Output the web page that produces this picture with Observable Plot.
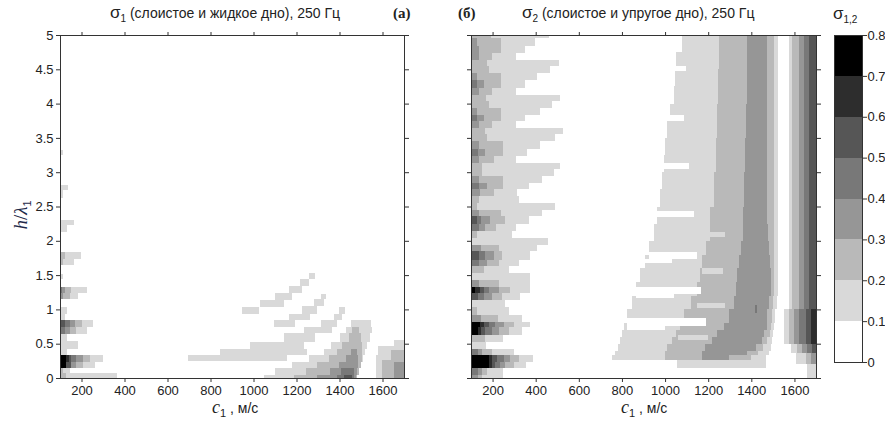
<!DOCTYPE html>
<html><head><meta charset="utf-8">
<script src="https://cdn.jsdelivr.net/npm/d3@7"></script>
<script src="https://cdn.jsdelivr.net/npm/@observablehq/plot@0.6"></script>
<style>
body{margin:0;background:#fff;}
#wrap{position:relative;width:885px;height:426px;font-family:"Liberation Sans",Arial,sans-serif;color:#222;overflow:hidden;}
.abs{position:absolute;white-space:nowrap;}
.title{font-size:14px;}
.sig{font-size:17px;}
.sub{font-size:10px;position:relative;top:4px;}
.lab{font-family:"Liberation Serif",serif;font-weight:bold;font-size:15px;}
.xl{font-size:14px;}
.ci{font-family:"Liberation Serif",serif;font-style:italic;font-size:18px;}
</style></head>
<body><div id="wrap"></div>
<script>
// ---- data ----
const xTicks = [200,400,600,800,1000,1200,1400,1600];
const yTicks = [0,0.5,1,1.5,2,2.5,3,3.5,4,4.5,5];
const levelBreaks = [0.1,0.2,0.3,0.4,0.5,0.6,0.7];
const levelTicks = [0,0.1,0.2,0.3,0.4,0.5,0.6,0.7,0.8];
const grays = ["#ffffff","#d9d9d9","#b9b9b9","#969696","#787878","#565656","#2d2d2d","#000000"];

// panel (a): rectangles [c1 from, c1 to, h/λ from, h/λ to, level 0..7], painted in order
const aLeft = [
[100,115,3.25,3.33,1],
[100,135,2.74,2.82,1],[100,115,2.63,2.74,1],
[100,165,2.23,2.31,1],[100,134,2.13,2.23,1],
[100,197,1.74,1.83,1],[100,122,1.74,1.83,2],
[100,165,1.64,1.74,1],[100,112,1.64,1.74,2],
[100,114,1.45,1.52,1],
[100,226,1.24,1.33,1],[100,153,1.24,1.33,2],[100,122,1.24,1.33,3],[100,110,1.24,1.33,4],
[100,184,1.15,1.24,1],[100,145,1.15,1.24,2],[100,114,1.15,1.24,3],
[100,134,0.93,1.03,1],[100,122,0.84,0.93,1],
[100,254,0.75,0.84,1],[100,200,0.75,0.84,2],[100,169,0.75,0.84,3],[100,145,0.75,0.84,4],[100,122,0.75,0.84,5],
[100,226,0.64,0.75,1],[100,176,0.64,0.75,2],[100,145,0.64,0.75,3],[100,122,0.64,0.75,4],
[100,134,0.54,0.64,1],
[100,184,0.43,0.54,1],
[100,134,0.33,0.43,1],
[100,298,0.24,0.33,1],[100,239,0.24,0.33,2],[100,207,0.24,0.33,3],[100,176,0.24,0.33,4],[100,150,0.24,0.33,5],[100,140,0.24,0.33,6],[100,130,0.24,0.33,7],
[100,265,0.14,0.24,1],[100,207,0.14,0.24,2],[100,176,0.14,0.24,3],[100,153,0.14,0.24,5],[100,130,0.14,0.24,7],
[100,145,0.08,0.14,1],[100,114,0.08,0.14,2],
[100,363,0,0.08,1],[100,130,0,0.08,2]
];
const aRight = [
[946,1024,0.94,1.03,1],[1029,1141,1.04,1.14,1],[1102,1180,1.14,1.24,1],[1164,1226,1.24,1.34,1],[1218,1257,1.34,1.44,1],[1257,1285,1.44,1.53,1],
[1094,1195,0.75,0.84,1],[1164,1265,0.84,0.94,1],[1226,1296,0.94,1.05,1],[1281,1327,1.05,1.15,1],[1315,1335,1.15,1.23,1],
[697,1156,0.25,0.33,1],[845,1250,0.33,0.43,1],[985,1234,0.43,0.53,1],[1141,1288,0.53,0.65,1],[1234,1366,0.65,0.75,1],[1312,1390,0.75,0.84,1],[1374,1413,0.84,0.94,1],[1397,1424,0.94,1.04,1],
[1452,1545,0.75,0.84,1],[1430,1550,0.65,0.75,1],[1400,1540,0.53,0.65,1],[1360,1530,0.43,0.53,1],[1330,1520,0.33,0.43,1],[1260,1510,0.24,0.33,1],[1180,1500,0.14,0.24,1],[1100,1490,0.05,0.14,1],[1047,1480,0,0.05,1],
[1460,1490,0.65,0.75,2],[1445,1500,0.53,0.65,2],[1413,1506,0.43,0.53,2],[1390,1506,0.33,0.43,2],[1350,1506,0.24,0.33,2],[1296,1499,0.14,0.24,2],[1242,1490,0.05,0.14,2],[1188,1483,0,0.05,2],
[1452,1483,0.33,0.43,3],[1428,1485,0.24,0.33,3],[1397,1485,0.14,0.24,3],[1358,1480,0.05,0.14,3],[1296,1475,0,0.05,3],
[1405,1467,0.05,0.14,4],[1390,1467,0,0.05,4],[1420,1460,0,0.05,5],
[1654,1700,0.46,0.55,1],[1577,1700,0.33,0.46,1],[1569,1700,0,0.33,1],[1638,1700,0.26,0.41,2],[1599,1700,0,0.26,2],[1654,1700,0,0.24,3]
];

// panel (b), left part: [h from, h to, end of level 1..7 (c1, from 100)]
const bLeft = [
[4.96,5.00,460,194,0,0,0,0,0],
[4.84,4.96,395,240,127,0,0,0,0],
[4.74,4.84,349,240,135,0,0,0,0],
[4.64,4.74,308,197,135,0,0,0,0],
[4.55,4.64,507,174,0,0,0,0,0],
[4.45,4.55,468,182,0,0,0,0,0],
[4.35,4.45,406,240,127,0,0,0,0],
[4.23,4.35,349,240,158,127,0,0,0],
[4.13,4.23,308,197,135,0,0,0,0],
[4.04,4.13,514,169,0,0,0,0,0],
[3.94,4.04,476,182,0,0,0,0,0],
[3.84,3.94,421,240,127,0,0,0,0],
[3.74,3.84,352,240,158,127,0,0,0],
[3.65,3.74,308,197,135,0,0,0,0],
[3.55,3.65,525,163,0,0,0,0,0],
[3.45,3.55,488,174,0,0,0,0,0],
[3.34,3.45,421,248,135,0,0,0,0],
[3.24,3.34,360,248,166,132,0,0,0],
[3.14,3.24,308,205,135,0,0,0,0],
[3.04,3.14,514,150,0,0,0,0,0],
[2.94,3.04,483,150,0,0,0,0,0],
[2.84,2.94,429,248,135,0,0,0,0],
[2.75,2.84,367,248,174,135,0,0,0],
[2.65,2.75,313,205,143,0,0,0,0],
[2.55,2.65,321,135,0,0,0,0,0],
[2.45,2.55,488,127,0,0,0,0,0],
[2.36,2.45,429,240,135,0,0,0,0],
[2.25,2.36,367,259,189,148,127,0,0],
[2.15,2.25,308,216,166,135,0,0,0],
[2.04,2.15,290,127,0,0,0,0,0],
[1.94,2.04,457,0,0,0,0,0,0],
[1.85,1.94,406,228,148,0,0,0,0],
[1.72,1.85,375,244,205,166,138,0,0],
[1.63,1.72,321,228,174,138,0,0,0],
[1.53,1.63,274,158,0,0,0,0,0],
[1.43,1.53,375,0,0,0,0,0,0],
[1.33,1.43,375,228,135,0,0,0,0],
[1.24,1.33,375,282,228,182,158,140,120],
[1.14,1.24,329,244,197,158,132,0,0],
[1.04,1.14,256,0,0,0,0,0,0],
[0.92,1.04,274,127,0,0,0,0,0],
[0.82,0.92,336,225,148,0,0,0,0],
[0.74,0.82,375,298,251,212,182,158,140],
[0.63,0.74,336,274,228,197,166,145,132],
[0.53,0.63,247,166,0,0,0,0,0],
[0.43,0.53,169,0,0,0,0,0,0],
[0.34,0.43,298,197,150,132,0,0,0],
[0.24,0.34,386,321,282,251,220,197,182],
[0.14,0.24,355,298,259,236,212,197,182],
[0.04,0.14,247,174,150,132,0,0,0],
[0.00,0.04,247,150,132,0,0,0,0]
];
// panel (b), right part: [h from, h to, level1 start, level2 start, level3 start, level3 end, level2 end, level1 end]
const bRows = [
[4.75,5.00,1079,1249,1381,1474,1505,1525],
[4.50,4.75,1052,1249,1381,1474,1505,1525],
[4.25,4.50,1048,1245,1378,1474,1505,1525],
[4.00,4.25,1040,1245,1378,1474,1505,1525],
[3.75,4.00,1025,1240,1375,1474,1505,1525],
[3.50,3.75,1010,1240,1375,1474,1505,1525],
[3.25,3.50,1002,1234,1372,1474,1505,1525],
[3.00,3.25,995,1234,1372,1474,1505,1525],
[2.75,3.00,986,1225,1368,1474,1505,1525],
[2.50,2.75,975,1225,1368,1474,1505,1525],
[2.25,2.50,963,1210,1360,1474,1505,1525],
[2.00,2.25,950,1210,1360,1477,1505,1525],
[1.80,2.00,925,1190,1350,1480,1505,1525],
[1.60,1.80,905,1170,1342,1485,1505,1525],
[1.40,1.60,885,1160,1335,1489,1505,1525],
[1.20,1.40,866,1150,1330,1489,1505,1525],
[1.00,1.20,845,1120,1318,1481,1500,1520],
[0.80,1.00,825,1090,1295,1474,1495,1510],
[0.70,0.80,810,1070,1272,1474,1490,1505],
[0.60,0.70,800,1050,1240,1460,1485,1500],
[0.50,0.60,790,1030,1218,1450,1475,1495],
[0.40,0.50,780,1010,1185,1420,1455,1490],
[0.33,0.40,770,1001,1172,1380,1430,1480],
[0.26,0.33,754,1001,1172,1296,1400,1470]
];
// panel (b), right strips: [h from, h to, level1 start, end of levels 1..6]
const bStrips = [
[1.00,5.00,1574,1590,1621,1644,1667,1700,1700],
[0.50,1.00,1551,1574,1598,1621,1652,1675,1700],
[0.36,0.50,1582,1613,1636,1660,1682,1700,1700],
[0.21,0.36,1605,1652,1675,1700,1700,1700,1700],
[0.00,0.21,1659,1700,1700,1700,1700,1700,1700]
];
// panel (b), overlays: tongues and spots [c from, c to, h from, h to, level]
const bOver = [
[1056,1466,0.14,0.26,1],
[1048,1095,4.47,4.55,0],
[1025,1087,3.74,3.83,0],
[995,1110,3.04,3.13,0],
[963,1135,2.34,2.43,0],
[925,1150,1.74,1.84,0],[905,1030,1.68,1.74,0],
[866,1165,1.22,1.32,0],[866,1040,1.16,1.22,0],
[825,1190,0.76,0.87,0],[825,1000,0.70,0.76,0],
[1210,1280,2.05,2.13,1],[1170,1270,1.52,1.60,1],[1150,1280,1.02,1.10,1],[1060,1200,0.56,0.63,1],
[1418,1428,0.95,1.06,4]
];

// ---- build rectangles ----
const bRects = [];
for (const r of bLeft) {
  for (let k = 1; k <= 7; k++) if (r[k+1] > 100) bRects.push([100, r[k+1], r[0], r[1], k]);
}
for (const r of bRows) {
  const [h0,h1,A,B,C,D,E,F] = r;
  bRects.push([A,B,h0,h1,1],[B,C,h0,h1,2],[C,D,h0,h1,3],[D,E,h0,h1,2],[E,F,h0,h1,1]);
}
for (const r of bStrips) {
  let s = r[2];
  for (let k = 1; k <= 6; k++) { const e = r[k+2]; if (e > s) bRects.push([s,e,r[0],r[1],k]); s = Math.max(s,e); }
}
for (const r of bOver) bRects.push(r);
const aRects = aLeft.concat(aRight);

const colorScale = {type:"threshold", domain: levelBreaks, range: grays};
const fillOf = d => d[4] === 0 ? 0.05 : d[4]/10 + 0.05;
const fmt = d => String(d);

function panel(rects, showY, left, width, mL, mR) {
  const p = Plot.plot({
    width, height: 426, marginLeft: mL, marginRight: mR, marginTop: 35, marginBottom: 48,
    style: {fontFamily: "Liberation Sans, Arial, sans-serif", fontSize: "13px", color: "#333", background: "transparent", overflow: "visible"},
    x: {domain: [100,1700]},
    y: {domain: [0,5]},
    color: colorScale,
    marks: [
      Plot.rect(rects, {x1: d=>d[0], x2: d=>d[1], y1: d=>d[2], y2: d=>d[3], fill: fillOf, shapeRendering: "crispEdges"}),
      Plot.frame({stroke: "#333"}),
      Plot.axisX({anchor: "bottom", ticks: xTicks, tickSize: 4, tickPadding: 3, label: null, fill: "#222", tickFormat: fmt}),
      Plot.axisX({anchor: "top", ticks: xTicks, tickSize: 4, tickFormat: () => "", label: null}),
      Plot.axisY({anchor: "left", ticks: yTicks, tickSize: 4, tickPadding: 3, label: null, fill: "#222", tickFormat: showY ? fmt : (() => "")}),
      Plot.axisY({anchor: "right", ticks: yTicks, tickSize: 4, tickFormat: () => "", label: null})
    ]
  });
  p.style.position = "absolute"; p.style.left = left + "px"; p.style.top = "0px";
  return p;
}

const wrap = document.getElementById("wrap");
wrap.appendChild(panel(aRects, true, 0, 420, 60, 16));
wrap.appendChild(panel(bRects, false, 441, 389, 30, 14));

// colour bar
const barData = [0,1,2,3,4,5,6,7];
const bar = Plot.plot({
  width: 65, height: 380, marginLeft: 14, marginRight: 23, marginTop: 35, marginBottom: 18,
  style: {fontFamily: "Liberation Sans, Arial, sans-serif", fontSize: "13px", color: "#333", background: "transparent", overflow: "visible"},
  x: {domain: [0,1], axis: null},
  y: {domain: [0,0.8]},
  color: colorScale,
  marks: [
    Plot.rect(barData, {x1: 0, x2: 1, y1: d => d/10, y2: d => d/10 + 0.1, fill: d => d/10 + 0.05, shapeRendering: "crispEdges"}),
    Plot.frame({stroke: "#333"}),
    Plot.axisY({anchor: "right", ticks: levelTicks, tickSize: 4, tickPadding: 1, label: null, fill: "#222", tickFormat: d => String(+d.toFixed(1))})
  ]
});
bar.style.position = "absolute"; bar.style.left = "820px"; bar.style.top = "0px";
wrap.appendChild(bar);

// texts
function addText(html, left, top, cls, extra) {
  const d = document.createElement("div");
  d.className = "abs " + (cls || "");
  d.innerHTML = html;
  d.style.left = left + "px"; d.style.top = top + "px";
  if (extra) Object.assign(d.style, extra);
  wrap.appendChild(d);
  return d;
}
addText('<span class="sig">σ</span><span class="sub">1</span> (слоистое и жидкое дно), 250 Гц', 110, 3, "title");
addText('(а)', 393, 5, "lab");
addText('(б)', 458, 5, "lab");
addText('<span class="sig">σ</span><span class="sub">2</span> (слоистое и упругое дно), 250 Гц', 522, 3, "title");
addText('<span class="sig">σ</span><span class="sub">1,2</span>', 833, 4, "title");
addText('<span class="ci">c</span><span class="sub" style="font-size:11px">1</span> , м/с', 212, 397, "xl");
addText('<span class="ci">c</span><span class="sub" style="font-size:11px">1</span> , м/с', 621, 397, "xl");
const yl = addText('<span class="ci" style="font-size:19px;color:#1f2a4a">h</span><span class="ci" style="font-size:19px;font-style:normal;color:#1f2a4a">/</span><span class="ci" style="font-size:19px;color:#1f2a4a">λ</span><span class="sub" style="font-size:11px;color:#1f2a4a">1</span>', 0, 0, "", {transform: "rotate(-90deg)", transformOrigin: "center"});
yl.style.left = (20 - yl.offsetWidth/2) + "px";
yl.style.top = (215 - yl.offsetHeight/2) + "px";
</script></body></html>
